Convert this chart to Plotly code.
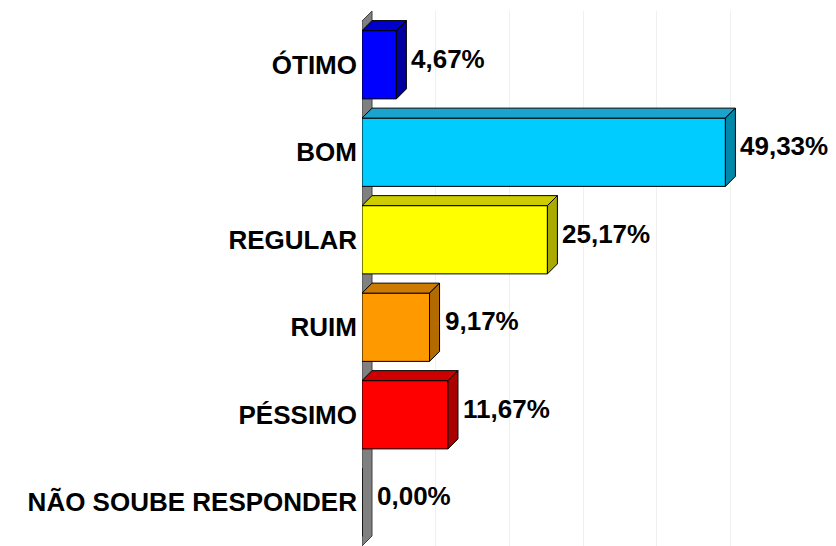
import plotly.graph_objects as go

categorias = ["ÓTIMO", "BOM", "REGULAR", "RUIM", "PÉSSIMO", "NÃO SOUBE RESPONDER"]
valores = [4.67, 49.33, 25.17, 9.17, 11.67, 0.00]
rotulos = ["4,67%", "49,33%", "25,17%", "9,17%", "11,67%", "0,00%"]
grade = [10, 20, 30, 40, 50]

cor_frente = ["#0000FF", "#00CCFF", "#FFFF00", "#FF9900", "#FF0000", "#808080"]
cor_topo = ["#0000CC", "#1AA3CC", "#CCCC00", "#CC7A00", "#CC0000", "#666666"]
cor_lado = ["#0000A0", "#0088AA", "#AAAA00", "#B36B00", "#AA0000", "#555555"]

W, H = 836, 546
ML, MR, MT, MB = 362, 32, 11, 0
x_max = 60
largura = 0.78
prof_px = 10

n = len(categorias)
px_x = (W - ML - MR) / x_max
px_y = (H - MT - MB - prof_px) / n
dx = prof_px / px_x
dy = prof_px / px_y

ypos = list(range(n))

fig = go.Figure()

# barras (face frontal)
fig.add_trace(go.Bar(
    x=valores, y=ypos, orientation="h", width=largura,
    marker=dict(color=cor_frente, line=dict(color="black", width=1)),
    hoverinfo="skip",
))

# faces superior e lateral (efeito 3D)
for i, v in enumerate(valores):
    if v <= 0:
        continue
    c = ypos[i]
    top = c - largura / 2
    bot = c + largura / 2
    fig.add_trace(go.Scatter(
        x=[0, v, v + dx, dx, 0], y=[top, top, top - dy, top - dy, top],
        mode="lines", fill="toself", fillcolor=cor_topo[i],
        line=dict(color="black", width=1), hoverinfo="skip",
    ))
    fig.add_trace(go.Scatter(
        x=[v, v + dx, v + dx, v, v], y=[top, top - dy, bot - dy, bot, top],
        mode="lines", fill="toself", fillcolor=cor_lado[i],
        line=dict(color="black", width=1), hoverinfo="skip",
    ))

# parede lateral cinza
y0 = -0.5
y1 = n - 0.5
fig.add_shape(
    type="path", xref="x", yref="y", layer="below",
    path=f"M 0 {y0} L {dx} {y0 - dy} L {dx} {y1 - dy} L 0 {y1} Z",
    fillcolor="#808080", line=dict(color="#404040", width=1),
)

for i, v in enumerate(valores):
    fig.add_annotation(
        x=v + dx, y=ypos[i] - dy * 0.6, text=rotulos[i],
        xanchor="left", yanchor="middle", xshift=3, showarrow=False,
        font=dict(family="Arial, Liberation Sans", size=26, color="black", weight="bold"),
    )

fig.update_layout(
    width=W, height=H,
    margin=dict(l=ML, r=MR, t=MT, b=MB),
    plot_bgcolor="white", paper_bgcolor="white",
    showlegend=False,
    font=dict(family="Arial, Liberation Sans", color="black"),
)
fig.update_xaxes(
    range=[0, x_max], tickvals=grade, showgrid=True, gridcolor="#f0f0f0", gridwidth=1,
    showticklabels=False, zeroline=False, showline=False, ticks="",
)
fig.update_yaxes(
    range=[y1, y0 - dy], tickvals=ypos, ticktext=categorias, showgrid=False,
    zeroline=False, showline=False, ticks="", ticklabelstandoff=4,
    tickfont=dict(family="Arial, Liberation Sans", size=26, color="black", weight="bold"),
)

fig.write_html(
    "out.html",
    config={"displayModeBar": False},
    post_script="document.body.style.margin='0';",
)
